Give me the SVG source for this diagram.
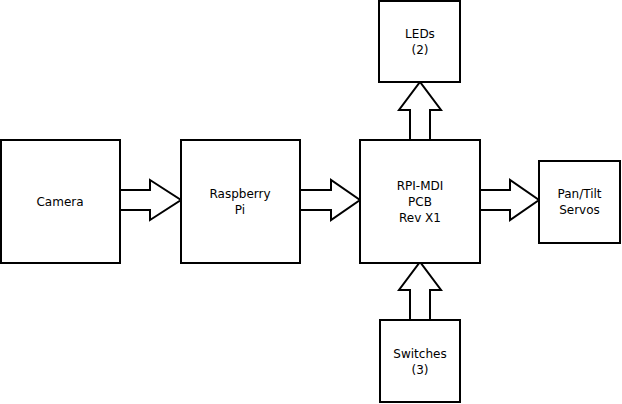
<svg xmlns="http://www.w3.org/2000/svg" width="622" height="404" viewBox="0 0 622 404">
<style>
.box{fill:#fff;stroke:#000;stroke-width:2}
.arr{fill:#fff;stroke:#000;stroke-width:2;stroke-linejoin:miter}
text{font-family:"DejaVu Sans",sans-serif;font-size:12px;fill:#000;text-anchor:middle}
</style>
<rect width="622" height="404" fill="#fff"/>
<g id="connectors">
<polygon class="arr" points="120,190 150,190 150,180 181,200 150,220 150,210 120,210"/>
<polygon class="arr" points="300,190 331,190 331,180 360,200 331,220 331,210 300,210"/>
<polygon class="arr" points="480,190 510,190 510,180 539,200 510,220 510,210 480,210"/>
<polygon class="arr" points="410,140 410,110 399,110 420,82 441,110 430,110 430,140"/>
<polygon class="arr" points="410,320 410,290 399,290 420,262 441,290 430,290 430,320"/>
</g>
<g id="camera"><rect class="box" x="1" y="140" width="119" height="123"/><text x="60" y="206">Camera</text></g>
<g id="pi"><rect class="box" x="181" y="140" width="119" height="123"/><text x="240" y="198">Raspberry</text><text x="240" y="214">Pi</text></g>
<g id="rpi"><rect class="box" x="360" y="140" width="120" height="123"/><text x="420" y="190">RPI-MDI</text><text x="420" y="206">PCB</text><text x="420" y="222">Rev X1</text></g>
<g id="servos"><rect class="box" x="539" y="161" width="81" height="82"/><text x="579.5" y="198">Pan/Tilt</text><text x="579.5" y="214">Servos</text></g>
<g id="leds"><rect class="box" x="379" y="1" width="81" height="81"/><text x="420" y="38">LEDs</text><text x="420" y="54">(2)</text></g>
<g id="switches"><rect class="box" x="380" y="320" width="80" height="82"/><text x="420" y="358">Switches</text><text x="420" y="374">(3)</text></g>
</svg>
